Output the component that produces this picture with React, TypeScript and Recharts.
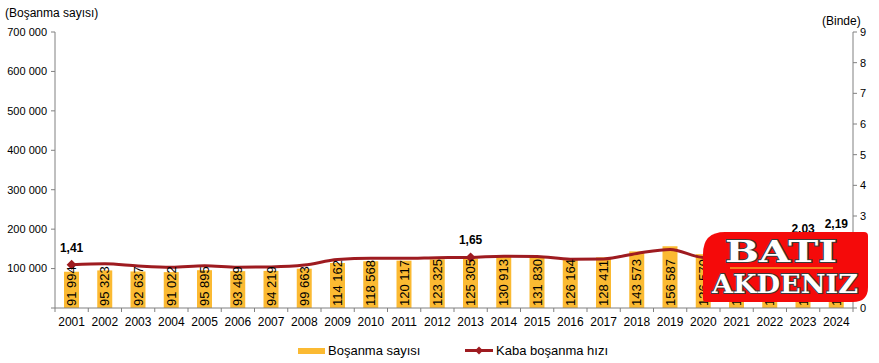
import React from 'react';
import { ComposedChart, Bar, Line, XAxis, YAxis, LabelList, Legend } from 'recharts';

const years = ['2001','2002','2003','2004','2005','2006','2007','2008','2009','2010','2011','2012','2013','2014','2015','2016','2017','2018','2019','2020','2021','2022','2023','2024'];
const divorces = [91994,95323,92637,91022,95895,93489,94219,99663,114162,118568,120117,123325,125305,130913,131830,126164,128411,143573,156587,136570,175779,182713,173632,187654];
const crudeRate = [1.41,1.44,1.37,1.33,1.38,1.33,1.34,1.40,1.58,1.62,1.62,1.64,1.65,1.69,1.68,1.59,1.60,1.78,1.91,1.65,2.09,2.15,2.03,2.19];
const labelledYears = ['2001','2013','2023','2024'];
const leftTicks = [0,100000,200000,300000,400000,500000,600000,700000];
const rightTicks = [0,1,2,3,4,5,6,7,8,9];

const data = years.map((y, i) => ({ year: y, count: divorces[i], rate: crudeRate[i] }));

const FONT = '"Liberation Sans", Arial, sans-serif';
const BAR_COLOR = '#FBBA32';
const LINE_COLOR = '#9E1B20';
const X_TICK_SIZE = 6;
const X_TICK_MARGIN = 3;

const fmt = (v: number) => String(v).replace(/\B(?=(\d{3})+(?!\d))/g, ' ');

const BarValueLabel = (props: any) => {
  const { x, y, width, height, value } = props;
  const cx = Number(x) + Number(width) / 2;
  const bottom = Number(y) + Number(height) - 2;
  return (
    <text x={cx} y={bottom} transform={`rotate(-90, ${cx}, ${bottom})`} textAnchor="start" dominantBaseline="central" fontFamily={FONT} fontSize={13} fill="#000">
      {fmt(value)}
    </text>
  );
};

const RateLabel = (props: any) => {
  const { x, y, value, index } = props;
  if (!labelledYears.includes(years[index])) return null;
  return (
    <text x={x} y={Number(y) - 13} textAnchor="middle" fontFamily={FONT} fontSize={12} fontWeight="bold" fill="#000">
      {String(value.toFixed(2)).replace('.', ',')}
    </text>
  );
};

const RateDot = (props: any) => {
  const { cx, cy, index } = props;
  if (!labelledYears.includes(years[index])) return <g key={`d${index}`} />;
  const s = 5;
  return <path key={`d${index}`} d={`M${cx},${cy - s} L${cx + s},${cy} L${cx},${cy + s} L${cx - s},${cy} Z`} fill={LINE_COLOR} />;
};

const YearTick = (props: any) => {
  const { x, y, payload, index } = props;
  const half = payload && payload.offset ? payload.offset : 16.6;
  const axisY = Number(y) - X_TICK_MARGIN - X_TICK_SIZE;
  const isLast = index === years.length - 1;
  return (
    <g>
      <line x1={x - half} y1={axisY} x2={x - half} y2={axisY + 4} stroke="#808080" />
      {isLast && <line x1={x + half} y1={axisY} x2={x + half} y2={axisY + 4} stroke="#808080" />}
      <text x={x} y={y} dy="0.71em" textAnchor="middle" fontFamily={FONT} fontSize={12} fill="#000">{payload.value}</text>
    </g>
  );
};

const LegendContent = () => (
  <svg width={879} height={30} style={{ display: 'block' }}>
    <rect x={298} y={15} width={27} height={6} fill={BAR_COLOR} />
    <text x={328} y={22} fontFamily={FONT} fontSize={13} fill="#000">Boşanma sayısı</text>
    <line x1={465} y1={17.5} x2={493} y2={17.5} stroke={LINE_COLOR} strokeWidth={3} />
    <path d="M479,13.5 L483,17.5 L479,21.5 L475,17.5 Z" fill={LINE_COLOR} />
    <text x={496} y={22} fontFamily={FONT} fontSize={13} fill="#000">Kaba boşanma hızı</text>
  </svg>
);

const Logo = () => (
  <svg width={879} height={363} style={{ position: 'absolute', left: 0, top: 0, pointerEvents: 'none' }}>
    <path d="M725,232 L864,232 Q868,232 868,236 L868,287 Q868,302 853,302 L706,302 Q703,302 703,299 L703,254 Q703,232 725,232 Z" fill="#F50A0A" />
    <line x1={730} y1={268} x2={833} y2={268} stroke="#F5A623" strokeWidth={1.5} />
    <text x={725} y={262} fontFamily='"DejaVu Serif", serif' fontWeight="bold" fontSize={30} textLength={112} lengthAdjust="spacingAndGlyphs" fill="#fff" stroke="#3a3a3a" strokeWidth={2} paintOrder="stroke">BATI</text>
    <text x={712} y={293} fontFamily='"DejaVu Serif", serif' fontWeight="bold" fontSize={26} textLength={146} lengthAdjust="spacingAndGlyphs" fill="#fff" stroke="#3a3a3a" strokeWidth={2} paintOrder="stroke">AKDENIZ</text>
  </svg>
);

export default function App() {
  return (
    <div style={{ position: 'absolute', left: 0, top: 0, width: 879, height: 363, background: '#fff' }}>
      <ComposedChart width={879} height={363} data={data} margin={{ top: 32, right: 0, bottom: 0, left: 0 }}>
        <XAxis dataKey="year" height={25} tickLine={false} tickSize={X_TICK_SIZE} axisLine={{ stroke: '#808080' }} tick={YearTick} tickMargin={X_TICK_MARGIN} interval={0} />
        <YAxis yAxisId="l" domain={[0, 700000]} ticks={leftTicks} width={55} tickSize={4} tickMargin={4} axisLine={{ stroke: '#808080' }} tickLine={{ stroke: '#808080' }}
          tick={{ fontFamily: FONT, fontSize: 11, fill: '#000' }} tickFormatter={(v: number) => (v === 0 ? '' : fmt(v))}
          label={{ content: () => <text x={5} y={17} fontFamily={FONT} fontSize={12} fill="#000">(Boşanma sayısı)</text> }} />
        <YAxis yAxisId="r" orientation="right" domain={[0, 9]} ticks={rightTicks} width={26} tickSize={4} tickMargin={3} axisLine={{ stroke: '#808080' }} tickLine={{ stroke: '#808080' }}
          tick={{ fontFamily: FONT, fontSize: 11, fill: '#000' }}
          label={{ content: () => <text x={822} y={25} fontFamily={FONT} fontSize={12} fill="#000">(Binde)</text> }} />
        <Legend verticalAlign="bottom" height={30} content={LegendContent} wrapperStyle={{ left: 0, width: 879, height: 30 }} />
        <Bar yAxisId="l" dataKey="count" fill={BAR_COLOR} barSize={15} isAnimationActive={false}>
          <LabelList dataKey="count" content={BarValueLabel} />
        </Bar>
        <Line yAxisId="r" dataKey="rate" type="monotone" stroke={LINE_COLOR} strokeWidth={3} dot={RateDot} activeDot={false} isAnimationActive={false}>
          <LabelList dataKey="rate" content={RateLabel} />
        </Line>
      </ComposedChart>
      <Logo />
    </div>
  );
}
